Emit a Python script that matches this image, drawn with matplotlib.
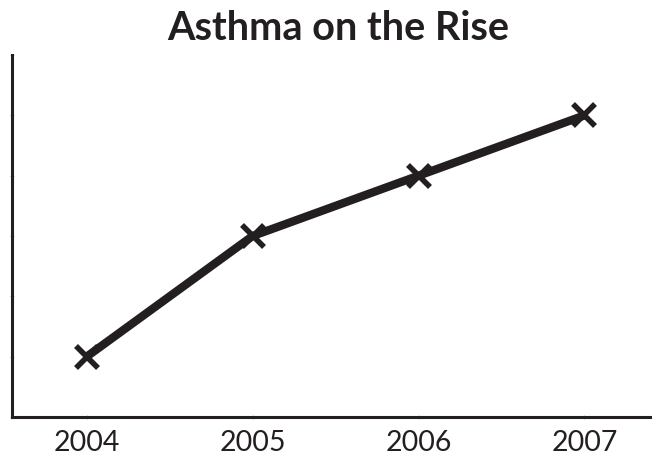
import numpy as np
import matplotlib.pyplot as plt

# data
years = ['2004', '2005', '2006', '2007']
cases = [1, 3, 4, 5]

plt.rcParams['font.family'] = ['Lato', 'DejaVu Sans']

fig = plt.figure(figsize=(6.52, 4.55), dpi=100)
ax = fig.add_axes([0.0184, 0.0835, 0.99, 0.7955])

x = np.arange(len(years))
ax.plot(x, cases, color='#231f20', linewidth=6, marker='x',
        markersize=16, markeredgewidth=4, solid_capstyle='butt')

ax.set_xlim(-0.45, 3.44)
ax.set_ylim(0, 6)
ax.set_xticks(x)
ax.set_xticklabels(years, fontsize=20.5, color='#231f20')
ax.set_yticks(np.arange(0, 7))
ax.set_yticklabels([])
ax.tick_params(axis='both', length=3, width=0.8, color='#bbbbbb', direction='inout', pad=8)

for s in ['top', 'right']:
    ax.spines[s].set_visible(False)
for s in ['left', 'bottom']:
    ax.spines[s].set_linewidth(2.2)
    ax.spines[s].set_color('#231f20')

fig.text(0.519, 0.937, 'Asthma on the Rise', ha='center', va='center',
         fontsize=28.5, fontweight='bold', color='#231f20')

fig.savefig('out.png', dpi=100)
